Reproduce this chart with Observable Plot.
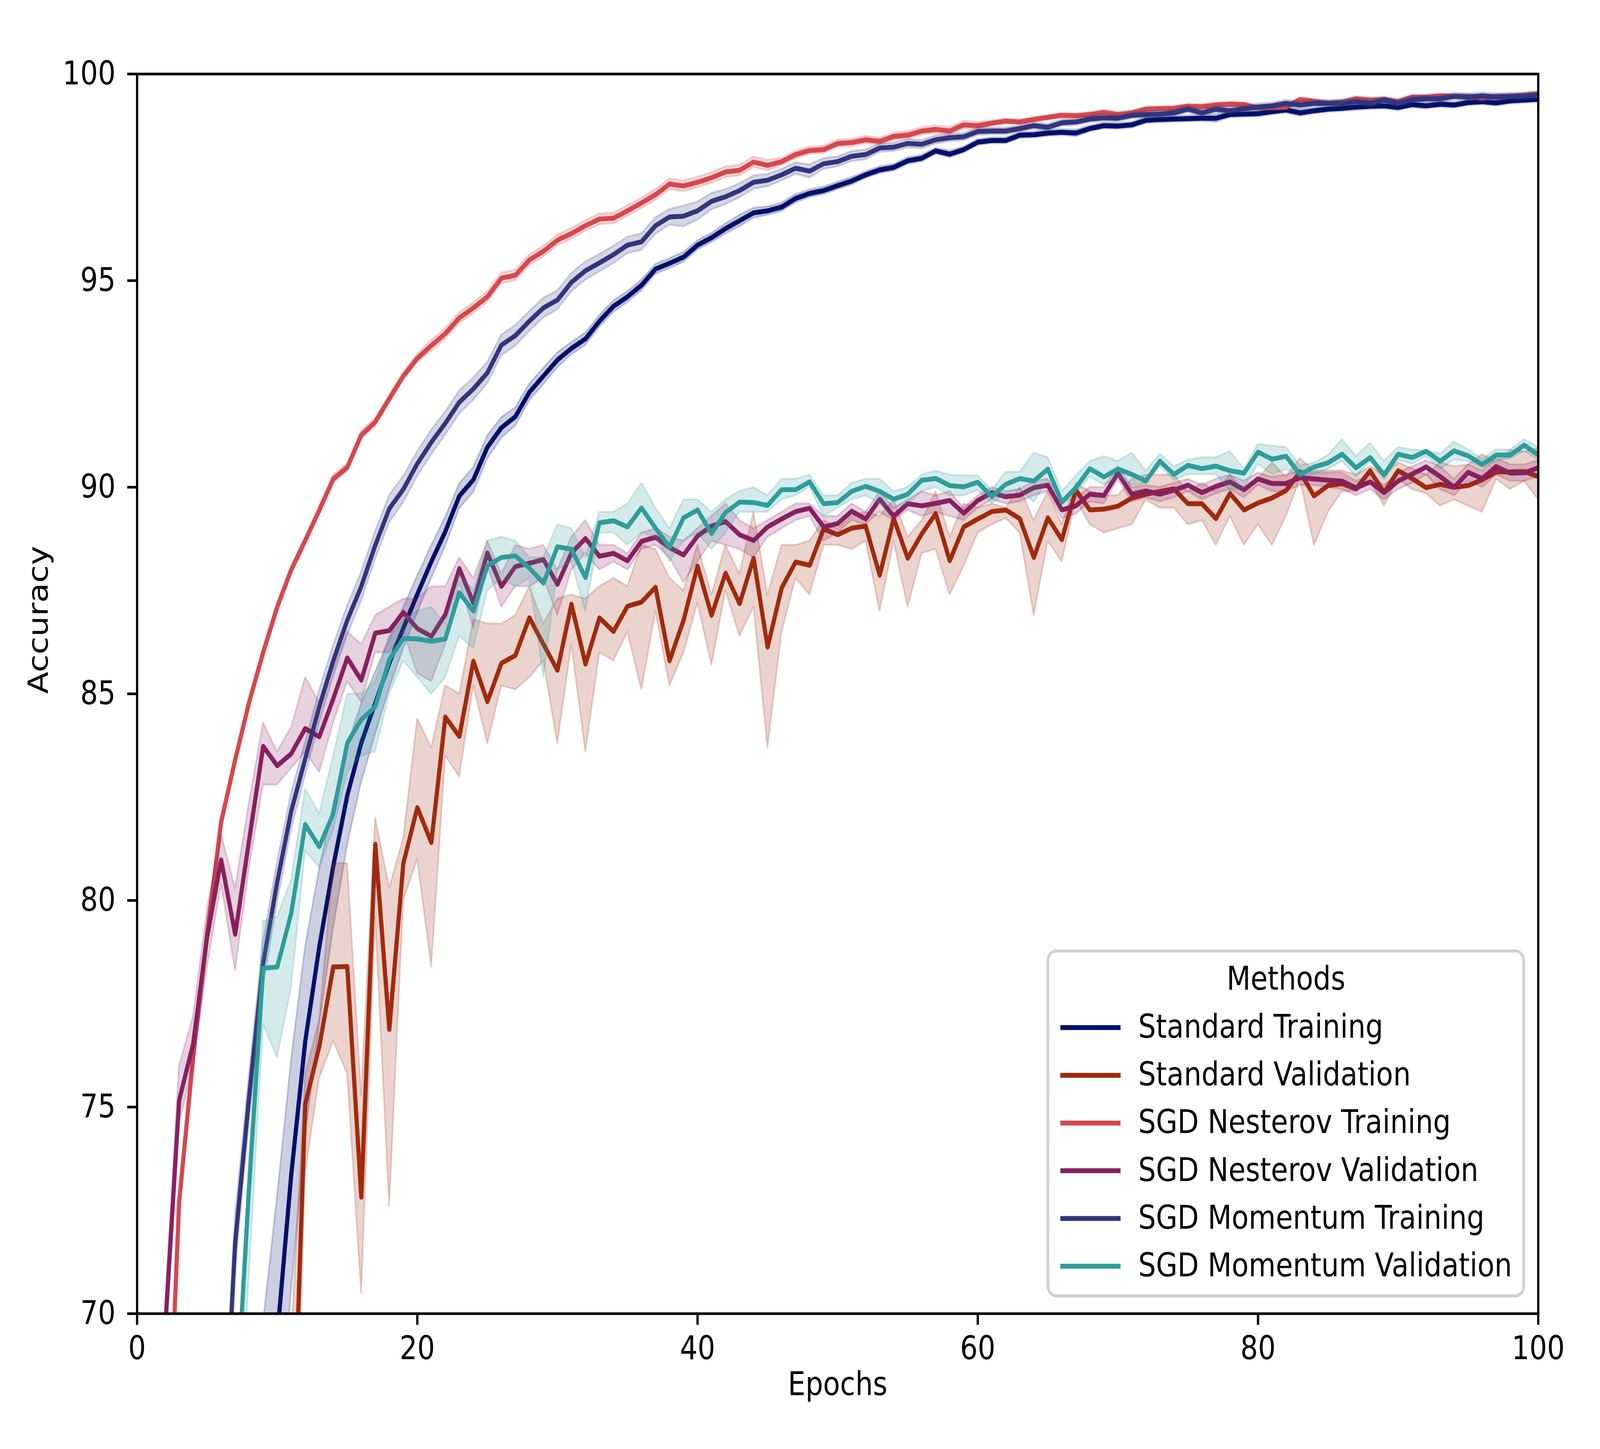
<!DOCTYPE html>
<html><head><meta charset="utf-8">
<script src="https://cdn.jsdelivr.net/npm/d3@7"></script>
<script src="https://cdn.jsdelivr.net/npm/@observablehq/plot@0.6"></script>
<style>
html,body{margin:0;padding:0;background:#fff;overflow:hidden;}
#chart svg{display:block;}
</style>
</head><body><div id="chart"></div>
<script>
const seriesNames = ["Standard Training", "Standard Validation", "SGD Nesterov Training", "SGD Nesterov Validation", "SGD Momentum Training", "SGD Momentum Validation"];
const seriesColors = ["#00106a", "#a12a0c", "#d6474d", "#88205f", "#32357d", "#2e9d9b"];
const legendTitle = "Methods";
const xLabel = "Epochs";
const yLabel = "Accuracy";
const xTicks = [0, 20, 40, 60, 80, 100];
const yTicks = [70, 75, 80, 85, 90, 95, 100];
const epochs = d3.range(1, 101);

const stdTrain = [
20, 30, 38, 45, 51, 56, 60, 63.5, 66.6, 69.45,
73.36, 76.59, 78.87, 80.83, 82.54, 83.81, 84.78, 85.74, 86.59, 87.41,
88.2, 88.93, 89.79, 90.18, 90.97, 91.44, 91.71, 92.30, 92.69, 93.08,
93.36, 93.59, 94.02, 94.38, 94.61, 94.89, 95.28, 95.42, 95.57, 95.86,
96.04, 96.26, 96.45, 96.64, 96.69, 96.78, 96.99, 97.11, 97.18, 97.30,
97.41, 97.56, 97.68, 97.74, 97.90, 97.96, 98.14, 98.06, 98.17, 98.35,
98.39, 98.39, 98.52, 98.53, 98.57, 98.59, 98.57, 98.68, 98.75, 98.74,
98.77, 98.88, 98.90, 98.91, 98.92, 98.93, 98.93, 99.02, 99.03, 99.04,
99.09, 99.13, 99.06, 99.11, 99.15, 99.17, 99.20, 99.22, 99.23, 99.19,
99.26, 99.23, 99.27, 99.25, 99.31, 99.33, 99.30, 99.35, 99.37, 99.39];
const stdTrainSpread = [
3, 3, 3, 3, 3, 3, 3, 3, 3.2, 3.4,
2.8, 2.3, 1.9, 1.5, 1.2, 0.95, 0.75, 0.6, 0.5, 0.45,
0.4, 0.35, 0.3, 0.3, 0.28, 0.25, 0.22, 0.2, 0.2, 0.18,
0.15, 0.15, 0.14, 0.14, 0.13, 0.13, 0.12, 0.12, 0.12, 0.11,
0.11, 0.12, 0.14, 0.12, 0.1, 0.1, 0.1, 0.09, 0.09, 0.09,
0.09, 0.08, 0.08, 0.08, 0.08, 0.08, 0.07, 0.08, 0.07, 0.07,
0.07, 0.07, 0.07, 0.07, 0.07, 0.07, 0.08, 0.07, 0.07, 0.07,
0.07, 0.07, 0.07, 0.07, 0.07, 0.07, 0.09, 0.07, 0.07, 0.07,
0.07, 0.07, 0.08, 0.07, 0.07, 0.07, 0.07, 0.07, 0.07, 0.07,
0.07, 0.07, 0.07, 0.07, 0.07, 0.07, 0.07, 0.07, 0.07, 0.07];

const stdVal = [
25, 35, 42, 48, 53, 57, 60, 62, 63.5, 64.3,
65.0, 75.07, 76.46, 78.39, 78.40, 72.82, 81.36, 76.88, 80.89, 82.25,
81.40, 84.44, 83.97, 85.79, 84.81, 85.74, 85.93, 86.84, 86.20, 85.57,
87.17, 85.72, 86.84, 86.51, 87.12, 87.22, 87.58, 85.80, 86.78, 88.09,
86.90, 87.92, 87.18, 88.28, 86.13, 87.56, 88.19, 88.11, 88.99, 88.85,
89.01, 89.06, 87.87, 89.25, 88.28, 88.87, 89.36, 88.22, 89.04, 89.23,
89.41, 89.45, 89.24, 88.30, 89.26, 88.73, 89.93, 89.45, 89.47, 89.54,
89.74, 89.83, 89.90, 89.96, 89.60, 89.60, 89.24, 89.85, 89.45, 89.62,
89.74, 89.92, 90.37, 89.79, 90.04, 90.09, 89.96, 90.40, 89.87, 90.40,
90.21, 89.99, 90.07, 90.00, 90.04, 90.18, 90.37, 90.37, 90.38, 90.26];
const stdValLo = [
22, 32, 39, 45, 50, 54, 57, 59, 60.5, 61,
62, 73.4, 75.7, 76.6, 75.8, 70.5, 79.6, 72.6, 80.0, 81.0,
78.4, 83.5, 83.0, 85.2, 83.8, 85.2, 85.1, 85.4, 85.8, 83.8,
86.2, 83.6, 86.0, 85.8, 86.5, 85.1, 87.0, 85.2, 86.0, 87.2,
85.7, 87.5, 86.4, 87.1, 83.7, 86.5, 87.8, 87.4, 88.6, 88.6,
88.5, 88.7, 87.0, 88.7, 87.1, 88.4, 88.5, 87.4, 88.1, 88.9,
89.1, 89.25, 88.9, 86.9, 88.7, 88.2, 89.7, 89.1, 88.9, 89.0,
89.1, 89.7, 89.5, 89.5, 89.1, 89.2, 88.6, 89.3, 88.6, 89.1,
88.6, 89.3, 90.2, 88.6, 89.4, 89.9, 89.9, 90.15, 89.55, 90.2,
89.95, 89.85, 89.55, 89.7, 89.55, 89.4, 90.2, 89.95, 90.15, 89.7];
const stdValHi = [
28, 38, 45, 51, 56, 60, 63, 65, 66.5, 67,
69.4, 75.8, 77.1, 80.9, 80.9, 75.3, 82.0, 80.3, 81.5, 84.4,
83.7, 85.2, 85.0, 86.8, 86.7, 86.7, 86.9, 87.6, 86.7, 87.3,
87.4, 87.3, 87.6, 87.8, 87.6, 88.6, 88.5, 87.8, 87.5, 88.6,
87.4, 88.6, 87.9, 89.4, 87.4, 88.6, 88.6, 88.7, 89.2, 89.0,
89.3, 89.4, 89.3, 89.7, 88.8, 89.2, 89.9, 88.8, 89.6, 89.5,
89.6, 89.5, 90.0, 89.2, 89.9, 89.1, 90.1, 89.9, 89.8, 89.8,
90.2, 90.3, 90.3, 90.3, 89.9, 90.1, 89.9, 90.3, 89.9, 90.2,
90.6, 90.25, 90.7, 90.4, 90.4, 90.4, 90.3, 90.5, 90.3, 90.6,
90.45, 90.3, 90.6, 90.5, 90.55, 90.8, 90.6, 90.9, 90.85, 90.95];

const nesTrain = [
48, 64.5, 72.7, 76.2, 79.2, 81.9, 83.4, 84.8, 86.0, 87.1,
88.0, 88.71, 89.44, 90.20, 90.48, 91.26, 91.58, 92.14, 92.69, 93.12,
93.43, 93.72, 94.10, 94.34, 94.61, 95.06, 95.13, 95.50, 95.71, 95.98,
96.14, 96.33, 96.49, 96.51, 96.69, 96.88, 97.08, 97.34, 97.29, 97.38,
97.49, 97.63, 97.67, 97.87, 97.79, 97.88, 98.05, 98.15, 98.17, 98.32,
98.34, 98.41, 98.37, 98.49, 98.52, 98.62, 98.66, 98.62, 98.77, 98.75,
98.81, 98.86, 98.84, 98.90, 98.95, 99.00, 98.99, 99.02, 99.07, 99.02,
99.06, 99.15, 99.16, 99.17, 99.22, 99.21, 99.25, 99.27, 99.26, 99.18,
99.19, 99.20, 99.38, 99.34, 99.29, 99.32, 99.40, 99.37, 99.38, 99.33,
99.44, 99.44, 99.47, 99.46, 99.46, 99.42, 99.46, 99.46, 99.49, 99.52];
const nesTrainSpread = [
0.3, 0.3, 0.12, 0.12, 0.12, 0.12, 0.12, 0.12, 0.12, 0.12,
0.1, 0.1, 0.1, 0.1, 0.1, 0.1, 0.1, 0.1, 0.1, 0.1,
0.13, 0.13, 0.13, 0.13, 0.13, 0.13, 0.13, 0.13, 0.13, 0.13,
0.13, 0.13, 0.13, 0.13, 0.13, 0.13, 0.13, 0.13, 0.13, 0.13,
0.13, 0.13, 0.13, 0.13, 0.13, 0.09, 0.09, 0.09, 0.09, 0.09,
0.09, 0.09, 0.09, 0.09, 0.09, 0.09, 0.09, 0.09, 0.09, 0.09,
0.06, 0.06, 0.06, 0.06, 0.06, 0.06, 0.06, 0.06, 0.06, 0.06,
0.06, 0.06, 0.06, 0.06, 0.06, 0.06, 0.06, 0.06, 0.06, 0.06,
0.06, 0.06, 0.06, 0.06, 0.06, 0.06, 0.06, 0.06, 0.06, 0.06,
0.06, 0.06, 0.06, 0.06, 0.06, 0.06, 0.06, 0.06, 0.06, 0.06];

const nesVal = [
55, 69.6, 75.16, 76.53, 79.12, 80.98, 79.18, 81.47, 83.73, 83.26,
83.55, 84.16, 83.96, 84.88, 85.87, 85.33, 86.47, 86.53, 86.97, 86.58,
86.39, 86.92, 88.03, 87.20, 88.41, 87.60, 88.08, 88.16, 88.25, 87.65,
88.41, 88.76, 88.33, 88.40, 88.22, 88.69, 88.79, 88.54, 88.36, 88.82,
89.06, 89.17, 88.85, 88.71, 89.04, 89.23, 89.41, 89.49, 89.04, 89.12,
89.42, 89.23, 89.71, 89.30, 89.60, 89.55, 89.61, 89.68, 89.37, 89.68,
89.87, 89.77, 89.81, 89.99, 90.05, 89.45, 89.55, 89.83, 89.80, 90.34,
89.83, 89.91, 89.83, 89.93, 90.05, 89.87, 90.02, 90.13, 89.94, 90.20,
90.09, 90.09, 90.23, 90.20, 90.17, 90.15, 89.98, 90.13, 89.87, 90.15,
90.32, 90.49, 90.26, 90.00, 90.36, 90.21, 90.50, 90.34, 90.35, 90.47];
const nesValLo = [
53, 69.0, 74.6, 76.0, 78.4, 80.4, 78.3, 80.8, 82.8, 82.8,
83.2, 83.6, 83.1, 84.3, 85.3, 84.8, 86.0, 86.0, 86.5, 85.5,
85.3, 86.2, 87.7, 86.6, 88.1, 87.1, 87.6, 87.6, 87.8, 86.9,
88.0, 88.4, 88.0, 88.2, 88.0, 88.5, 88.6, 88.3, 87.7, 88.2,
88.7, 88.6, 88.5, 88.3, 88.8, 89.0, 89.2, 89.3, 88.7, 88.9,
89.2, 89.1, 89.4, 89.2, 89.45, 89.3, 89.4, 89.3, 89.2, 89.5,
89.7, 89.6, 89.65, 89.8, 89.9, 89.25, 89.35, 89.65, 89.6, 90.2,
89.65, 89.75, 89.65, 89.75, 89.9, 89.7, 89.85, 89.95, 89.75, 90.05,
89.9, 89.9, 90.05, 90.05, 90.0, 89.95, 89.8, 89.95, 89.7, 89.95,
90.1, 90.3, 89.95, 89.8, 90.15, 90.0, 90.3, 90.15, 90.15, 90.25];
const nesValHi = [
57, 70.2, 76.0, 77.2, 79.8, 81.6, 80.3, 82.4, 84.3, 83.6,
84.2, 85.4, 84.8, 85.6, 86.5, 86.2, 86.9, 87.1, 87.3, 87.3,
87.6, 87.6, 88.3, 87.8, 88.7, 87.9, 88.6, 88.5, 88.6, 88.0,
88.8, 89.2, 88.6, 88.6, 88.4, 88.9, 89.0, 88.8, 88.7, 89.0,
89.3, 89.6, 89.2, 89.0, 89.2, 89.4, 89.6, 89.6, 89.3, 89.3,
89.6, 89.4, 89.9, 89.5, 89.7, 89.9, 89.8, 89.9, 89.5, 89.8,
90.0, 89.9, 89.95, 90.15, 90.2, 89.65, 89.75, 90.0, 90.0, 90.5,
90.0, 90.05, 90.0, 90.1, 90.2, 90.05, 90.2, 90.3, 90.15, 90.35,
90.25, 90.3, 90.4, 90.35, 90.35, 90.35, 90.15, 90.3, 90.05, 90.35,
90.5, 90.65, 90.5, 90.2, 90.55, 90.4, 90.7, 90.55, 90.55, 90.65];

const momTrain = [
30, 40, 48, 55, 60.5, 65.1, 71.72, 75.26, 78.49, 80.45,
82.16, 83.43, 84.69, 85.80, 86.78, 87.60, 88.6, 89.48, 89.95, 90.57,
91.09, 91.55, 92.06, 92.38, 92.77, 93.44, 93.67, 94.02, 94.34, 94.53,
94.96, 95.24, 95.43, 95.63, 95.86, 95.94, 96.33, 96.54, 96.56, 96.69,
96.92, 97.03, 97.18, 97.38, 97.43, 97.56, 97.72, 97.65, 97.83, 97.88,
98.01, 98.05, 98.21, 98.23, 98.32, 98.30, 98.41, 98.46, 98.48, 98.61,
98.62, 98.62, 98.68, 98.75, 98.71, 98.82, 98.84, 98.91, 98.94, 98.93,
99.00, 99.02, 99.03, 99.06, 99.15, 99.06, 99.15, 99.11, 99.16, 99.20,
99.23, 99.29, 99.25, 99.29, 99.29, 99.29, 99.33, 99.29, 99.37, 99.29,
99.38, 99.40, 99.40, 99.46, 99.44, 99.47, 99.44, 99.46, 99.46, 99.49];
const momTrainSpread = [
1, 1, 1, 1, 1, 1, 0.7, 0.6, 0.55, 0.5,
0.45, 0.4, 0.4, 0.38, 0.36, 0.35, 0.34, 0.33, 0.32, 0.3,
0.3, 0.28, 0.28, 0.27, 0.26, 0.25, 0.25, 0.24, 0.24, 0.23,
0.22, 0.22, 0.21, 0.21, 0.2, 0.2, 0.2, 0.19, 0.25, 0.22,
0.2, 0.18, 0.17, 0.16, 0.15, 0.14, 0.14, 0.16, 0.13, 0.12,
0.12, 0.12, 0.1, 0.1, 0.1, 0.1, 0.1, 0.09, 0.09, 0.09,
0.08, 0.08, 0.08, 0.08, 0.08, 0.08, 0.08, 0.08, 0.08, 0.08,
0.08, 0.08, 0.08, 0.08, 0.08, 0.08, 0.08, 0.08, 0.08, 0.08,
0.08, 0.08, 0.08, 0.08, 0.08, 0.08, 0.08, 0.08, 0.08, 0.08,
0.08, 0.08, 0.08, 0.08, 0.08, 0.08, 0.08, 0.08, 0.08, 0.08];

const momVal = [
35, 45, 52, 58, 62, 64.8, 67.25, 73.1, 78.36, 78.39,
79.69, 81.84, 81.30, 82.10, 83.81, 84.38, 84.69, 85.83, 86.34, 86.33,
86.27, 86.33, 87.45, 87.00, 88.10, 88.30, 88.34, 88.04, 87.68, 88.56,
88.50, 87.81, 89.14, 89.19, 89.04, 89.50, 89.01, 88.55, 89.26, 89.45,
88.88, 89.39, 89.64, 89.63, 89.56, 89.94, 89.94, 90.13, 89.60, 89.63,
89.90, 90.02, 89.90, 89.71, 89.83, 90.17, 90.21, 90.04, 90.01, 90.12,
89.77, 90.07, 90.21, 90.15, 90.44, 89.64, 89.99, 90.45, 90.25, 90.44,
90.31, 90.15, 90.63, 90.31, 90.53, 90.45, 90.51, 90.40, 90.34, 90.85,
90.68, 90.75, 90.31, 90.49, 90.59, 90.80, 90.47, 90.72, 90.30, 90.80,
90.72, 90.87, 90.63, 90.88, 90.76, 90.55, 90.78, 90.78, 91.02, 90.78];
const momValLo = [
33, 43, 50, 56, 60, 63, 65.5, 71.0, 77.0, 76.2,
77.9, 81.2, 80.8, 81.7, 83.1, 83.5, 83.6, 85.0, 85.8, 85.4,
85.0, 85.4, 86.4, 86.1, 87.5, 87.8, 87.6, 87.8, 85.4, 88.0,
88.2, 87.0, 88.9, 88.9, 88.6, 88.9, 88.8, 88.2, 88.7, 88.9,
88.5, 88.9, 89.4, 89.4, 89.4, 89.7, 89.8, 90.0, 89.3, 89.5,
89.7, 89.8, 89.6, 89.5, 89.6, 89.9, 90.0, 89.8, 89.8, 89.93,
89.61, 89.83, 89.96, 89.64, 90.18, 89.58, 89.87, 90.25, 90.06, 90.25,
90.06, 90.09, 90.50, 90.18, 90.31, 90.31, 90.31, 89.93, 89.99, 90.56,
90.31, 90.44, 90.25, 90.31, 90.44, 90.63, 90.25, 90.63, 90.18, 90.66,
90.56, 90.75, 90.44, 90.66, 90.63, 90.47, 90.66, 90.69, 90.88, 90.66];
const momValHi = [
37, 47, 54, 60, 64, 66.5, 67.5, 73.8, 79.5, 79.6,
80.5, 82.7, 82.1, 83.5, 85.0, 85.0, 85.3, 86.4, 86.8, 87.0,
87.1, 86.7, 87.9, 87.5, 88.7, 88.8, 88.7, 88.3, 88.3, 89.1,
89.0, 88.3, 89.4, 89.4, 89.6, 90.1, 89.5, 89.0, 89.7, 89.7,
89.4, 89.7, 89.9, 90.0, 89.8, 90.2, 90.2, 90.3, 89.8, 89.8,
90.1, 90.2, 90.2, 89.9, 90.0, 90.3, 90.4, 90.3, 90.28, 90.28,
89.93, 90.37, 90.37, 90.83, 90.72, 89.90, 90.28, 90.63, 90.75, 90.63,
90.83, 90.40, 90.81, 90.50, 90.66, 90.72, 90.72, 90.87, 90.44, 91.04,
91.00, 90.97, 90.53, 90.59, 90.78, 91.16, 90.75, 91.07, 90.63, 90.97,
90.91, 90.89, 90.81, 91.10, 90.91, 90.69, 90.91, 90.91, 91.16, 90.97];

// Build long-format table
const seriesData = [
  {mean: stdTrain, spread: stdTrainSpread},
  {mean: stdVal, lo: stdValLo, hi: stdValHi},
  {mean: nesTrain, spread: nesTrainSpread},
  {mean: nesVal, lo: nesValLo, hi: nesValHi},
  {mean: momTrain, spread: momTrainSpread},
  {mean: momVal, lo: momValLo, hi: momValHi}
];
const rows = [];
seriesData.forEach((sd, i) => {
  epochs.forEach((e, j) => {
    const v = sd.mean[j];
    const lo = sd.lo ? sd.lo[j] : v - sd.spread[j];
    const hi = sd.hi ? sd.hi[j] : v + sd.spread[j];
    rows.push({series: seriesNames[i], epoch: e, value: v, lo, hi});
  });
});

const W = 4779, H = 3710, FS = 83;
const marks = [];
seriesNames.forEach((s) => {
  const d = rows.filter(r => r.series === s);
  marks.push(Plot.areaY(d, {x: "epoch", y1: "lo", y2: "hi", fill: "series", fillOpacity: 0.2, stroke: "series", strokeOpacity: 0.2, strokeWidth: 5, clip: true}));
  marks.push(Plot.lineY(d, {x: "epoch", y: "value", stroke: "series", strokeWidth: 12.5, strokeLinejoin: "round", clip: true}));
});

const chart = Plot.plot({
  width: W, height: H,
  marginLeft: 409, marginRight: 185, marginTop: 189, marginBottom: 347,
  style: {fontFamily: "DejaVu Sans", fontSize: FS + "px", background: "white", color: "black"},
  x: {domain: [0, 100]},
  y: {domain: [70, 100]},
  color: {domain: seriesNames, range: seriesColors},
  marks: [
    ...marks,
    Plot.axisX({ticks: xTicks, tickSize: 29, tickPadding: 29, strokeWidth: 6.7, fontSize: FS, label: null, fill: "black"}),
    Plot.axisY({ticks: yTicks, tickSize: 29, tickPadding: 35, strokeWidth: 6.7, fontSize: FS, label: null, fill: "black"}),
    Plot.frame({stroke: "black", strokeWidth: 6.7}),
    Plot.text([xLabel], {text: d => d, frameAnchor: "bottom", dy: 208, fontSize: FS, fill: "black"}),
    Plot.text([yLabel], {text: d => d, frameAnchor: "left", dx: -294, rotate: -90, fontSize: FS, fill: "black"})
  ]
});

// Legend inside the plot (lower right)
const svg = d3.select(chart);
const lg = svg.append("g").attr("font-family", "DejaVu Sans").attr("font-size", FS).attr("fill", "black");
lg.append("rect").attr("x", 3130).attr("y", 2435).attr("width", 1421).attr("height", 883)
  .attr("rx", 25).attr("fill", "white").attr("fill-opacity", 0.8)
  .attr("stroke", "#d0d0d0").attr("stroke-width", 8);
lg.append("text").attr("x", 3841).attr("y", 2534).attr("text-anchor", "middle").text(legendTitle);
seriesNames.forEach((s, i) => {
  const cy = 2631 + i * 122.2;
  lg.append("line").attr("x1", 3167).attr("x2", 3347).attr("y1", cy).attr("y2", cy)
    .attr("stroke", seriesColors[i]).attr("stroke-width", 12.5);
  lg.append("text").attr("x", 3400).attr("y", cy + 26).attr("text-anchor", "start").text(s);
});

// Fit the 4779x3710 drawing to the browser viewport
const vw = window.innerWidth || W, vh = window.innerHeight || H;
chart.setAttribute("viewBox", `0 0 ${W} ${H}`);
chart.setAttribute("preserveAspectRatio", "none");
chart.setAttribute("width", vw);
chart.setAttribute("height", vh);
chart.style.maxWidth = "none";
chart.style.width = vw + "px";
chart.style.height = vh + "px";
document.getElementById("chart").appendChild(chart);
</script>
</body></html>
